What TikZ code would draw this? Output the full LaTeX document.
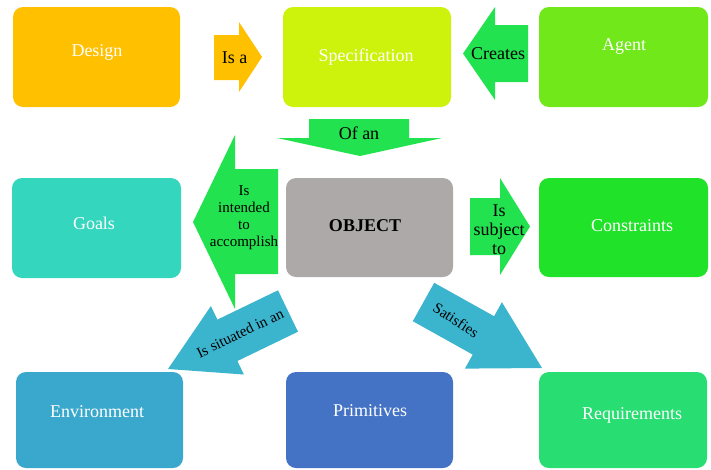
\documentclass[tikz,border=0pt]{standalone}
\usepackage{fontspec}
\setmainfont{Liberation Serif}
\definecolor{cDesign}{RGB}{255,192,0}
\definecolor{cSpec}{RGB}{205,242,12}
\definecolor{cAgent}{RGB}{112,232,26}
\definecolor{cGoals}{RGB}{53,214,190}
\definecolor{cObject}{RGB}{173,169,168}
\definecolor{cConstr}{RGB}{32,226,40}
\definecolor{cEnv}{RGB}{58,168,204}
\definecolor{cPrim}{RGB}{68,114,196}
\definecolor{cReq}{RGB}{40,222,114}
\definecolor{cArrG}{RGB}{34,226,80}
\definecolor{cArrB}{RGB}{59,180,206}
\begin{document}
\begin{tikzpicture}[x=1pt,y=-1pt,
  box/.style={rectangle, rounded corners=10pt, minimum width=167pt, minimum height=100pt, inner sep=0pt},
  btxt/.style={text=white, font=\fontsize{18}{21}\selectfont, inner sep=0pt},
  atxt/.style={text=black, font=\fontsize{18}{19}\selectfont, align=center, inner sep=0pt},
  stxt/.style={text=black, font=\fontsize{15}{17}\selectfont, align=center, inner sep=0pt},
]
\clip (0,0) rectangle (711,469);
% boxes
\node[box, fill=cDesign] (design) at (96.5,57) {};
\node[box, fill=cSpec, minimum width=168pt] (spec) at (367,57) {};
\node[box, fill=cAgent, minimum width=169pt] (agent) at (623.5,57) {};
\node[box, fill=cGoals, minimum width=169pt] (goals) at (96.5,228) {};
\node[box, fill=cObject, minimum height=99pt] (object) at (369.5,227.5) {};
\node[box, fill=cConstr, minimum width=169pt, minimum height=99pt] (constr) at (623.5,227.5) {};
\node[box, fill=cEnv, minimum height=96pt] (env) at (99.5,420) {};
\node[box, fill=cPrim, minimum height=96pt] (prim) at (369.5,420) {};
\node[box, fill=cReq, minimum width=168pt, minimum height=96pt] (req) at (623,420) {};
% box texts
\node[btxt] (tdesign) at (97,52) {Design};
\node[btxt] (tspec) at (366,57) {Specification};
\node[btxt] (tagent) at (624,46) {Agent};
\node[btxt] (tgoals) at (94,223) {Goals};
\node[btxt, text=black, font=\fontsize{18}{21}\selectfont\bfseries] (tobject) at (365,226) {OBJECT};
\node[btxt] (tconstr) at (632,226) {Constraints};
\node[btxt] (tenv) at (97,412) {Environment};
\node[btxt] (tprim) at (370,411) {Primitives};
\node[btxt] (treq) at (632,415) {Requirements};
% block arrows
\fill[cDesign] (214,35) -- (239,35) -- (239,22) -- (262,57) -- (239,92) -- (239,80) -- (214,80) -- cycle;
\node[atxt] (isa) at (234.5,58) {Is a};
\fill[cArrG] (528,25) -- (495,25) -- (495,7) -- (463,53.5) -- (495,100) -- (495,82) -- (528,82) -- cycle;
\node[atxt] (creates) at (498,54) {Creates};
\fill[cArrG] (309,119) -- (409,119) -- (409,138) -- (442,138) -- (360,156) -- (277,138) -- (309,138) -- cycle;
\node[atxt] (ofan) at (359,133) {Of an};
\fill[cArrG] (278,169) -- (235,169) -- (235,135) -- (193,222) -- (235,309) -- (235,274) -- (278,274) -- cycle;
\node[stxt] (intended) at (244,218) {Is\\intended\\to\\accomplish};
\fill[cArrG] (470,198) -- (500,198) -- (500,178) -- (530,226.5) -- (500,275) -- (500,255) -- (470,255) -- cycle;
\node[atxt] (subject) at (499,230) {Is\\subject\\to};
\fill[cArrB] (278,290.3) -- (298,331.7) -- (237.4,361) -- (243.9,374.5) -- (168,369) -- (210.9,306.1) -- (217.4,319.6) -- cycle;
\node[stxt, rotate=26] (situated) at (240,333) {Is situated in an};
\fill[cArrB] (434.2,282.8) -- (494.1,316.2) -- (501.9,302.2) -- (542,368) -- (464.9,368.6) -- (472.7,354.6) -- (412.8,321.2) -- cycle;
\node[stxt, rotate=-33] (satisfies) at (456,320) {Satisfies};
\end{tikzpicture}
\end{document}
